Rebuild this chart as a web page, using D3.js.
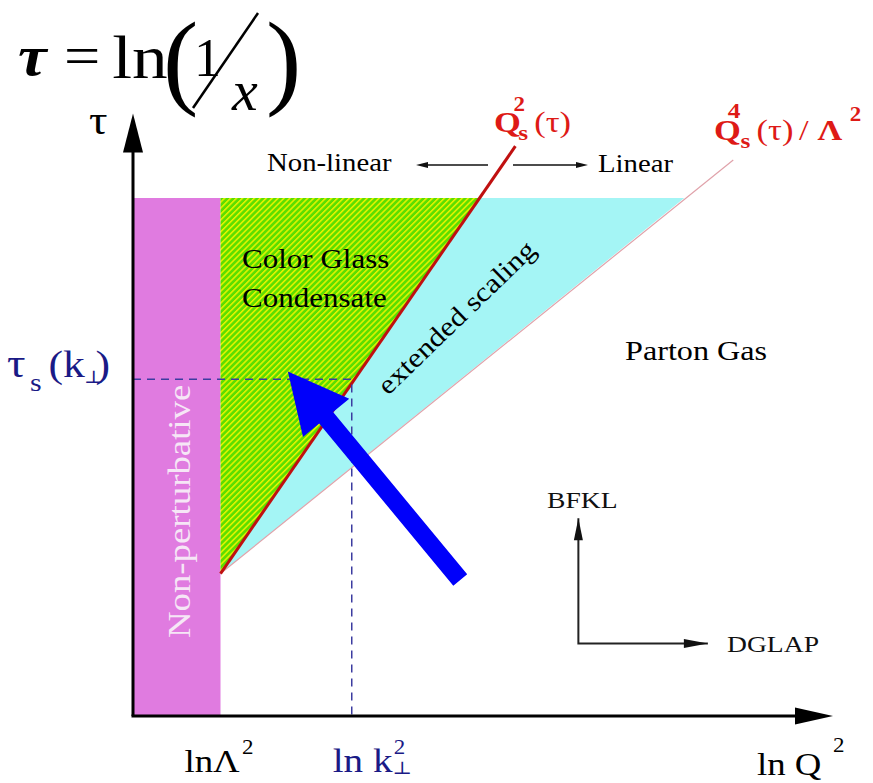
<!DOCTYPE html>
<html>
<head>
<meta charset="utf-8">
<script src="https://cdn.jsdelivr.net/npm/d3@7"></script>
<style>
  body { margin: 0; background: #fff; }
  svg text { font-family: "Liberation Serif", "DejaVu Serif", serif; }
</style>
</head>
<body>
<div class="diagram-container"></div>
<script>
var w = 873;
var h = 783;

// diagram values, in (ln Q^2, tau) units
var lnLambda2 = 1.0;
var lnK2 = 2.5;
var tauS = 3.9;
var axisEnd = [8, 6.98];
var nonPertRegion = [[0, 0], [1.0, 6]];
var cgcRegion = [[1.0, 1.65], [1.0, 6], [3.96, 6]];
var scalingRegion = [[1.0, 1.65], [3.96, 6], [6.30, 6]];
var satLine = [[1.0, 1.65], [4.37, 6.6]];       // Qs^2(tau)
var scalingLine = [[1.0, 1.65], [6.86, 6.44]];  // Qs^4(tau)/Lambda^2
var blueArrow = [[3.74, 1.575], [1.77, 3.99]];
var evoCorner = [5.09, 0.84];
var bfklTip = 2.29;
var dglapTip = 6.57;
var xTickLabels = ["lnΛ", "ln k"];

var x = d3.scaleLinear().domain([0, 8]).range([133, 833]);
var y = d3.scaleLinear().domain([0, 6]).range([716, 198]);

var svg = d3.select(".diagram-container")
    .append("svg")
    .attr("width", w)
    .attr("height", h);

var defs = svg.append("defs");

// hatched green fill for the CGC region
var hatch = defs.append("pattern")
    .attr("id", "hatch")
    .attr("patternUnits", "userSpaceOnUse")
    .attr("width", 4.2)
    .attr("height", 4.2)
    .attr("patternTransform", "rotate(45)");
hatch.append("rect").attr("width", 4.2).attr("height", 4.2).attr("fill", "#5cde00");
hatch.append("rect").attr("width", 1.5).attr("height", 4.2).attr("fill", "#e8f400");

var line = d3.line()
    .x(function(d) { return x(d[0]); })
    .y(function(d) { return y(d[1]); });

// regions
svg.append("rect")
    .attr("x", x(nonPertRegion[0][0]))
    .attr("y", y(nonPertRegion[1][1]))
    .attr("width", x(nonPertRegion[1][0]) - x(nonPertRegion[0][0]))
    .attr("height", y(nonPertRegion[0][1]) - y(nonPertRegion[1][1]))
    .attr("fill", "#e07be0");

svg.append("path")
    .attr("d", line(scalingRegion) + "Z")
    .attr("fill", "#a4f5f5");

svg.append("path")
    .attr("d", line(cgcRegion) + "Z")
    .attr("fill", "url(#hatch)");

svg.append("path")
    .attr("d", line(scalingLine))
    .attr("stroke", "#e0a2aa")
    .attr("stroke-width", 1.2)
    .attr("fill", "none");

svg.append("path")
    .attr("d", line(satLine))
    .attr("stroke", "#c01010")
    .attr("stroke-width", 3)
    .attr("fill", "none");

// dashed guide lines for k_perp
var dashColor = "#3c3ca0";
svg.append("path")
    .attr("d", line([[0, tauS], [lnK2, tauS], [lnK2, 0]]))
    .attr("stroke", dashColor)
    .attr("stroke-width", 1.5)
    .attr("stroke-dasharray", "8,6")
    .attr("fill", "none");

// axes with arrow heads
function arrowHead(tip, dir, len, wid, color) {
    var ux = dir[0], uy = dir[1];
    var bx = tip[0] - ux * len, by = tip[1] - uy * len;
    var px = -uy * wid / 2, py = ux * wid / 2;
    svg.append("path")
        .attr("d", "M" + tip[0] + "," + tip[1] +
            "L" + (bx + px) + "," + (by + py) +
            "L" + (bx - px) + "," + (by - py) + "Z")
        .attr("fill", color);
}

svg.append("line")
    .attr("x1", x(0)).attr("y1", y(0))
    .attr("x2", x(0)).attr("y2", y(axisEnd[1]) + 20)
    .attr("stroke", "#000").attr("stroke-width", 3);
arrowHead([x(0), y(axisEnd[1])], [0, -1], 39, 20, "#000");

svg.append("line")
    .attr("x1", x(0) - 1.5).attr("y1", y(0))
    .attr("x2", x(axisEnd[0]) - 20).attr("y2", y(0))
    .attr("stroke", "#000").attr("stroke-width", 3);
arrowHead([x(axisEnd[0]), y(0)], [1, 0], 38, 17, "#000");

// BFKL / DGLAP evolution arrows
svg.append("path")
    .attr("d", line([[evoCorner[0], bfklTip], evoCorner, [dglapTip, evoCorner[1]]]))
    .attr("stroke", "#222").attr("stroke-width", 2).attr("fill", "none");
arrowHead([x(evoCorner[0]), y(bfklTip)], [0, -1], 22, 9, "#111");
arrowHead([x(dglapTip), y(evoCorner[1])], [1, 0], 24, 9, "#111");

// Non-linear / Linear arrows
svg.append("line").attr("x1", 488).attr("y1", 165).attr("x2", 425).attr("y2", 165)
    .attr("stroke", "#111").attr("stroke-width", 1.5);
arrowHead([416, 165], [-1, 0], 12, 6, "#111");
svg.append("line").attr("x1", 513).attr("y1", 165).attr("x2", 578).attr("y2", 165)
    .attr("stroke", "#111").attr("stroke-width", 1.5);
arrowHead([588, 165], [1, 0], 12, 6, "#111");

// big blue arrow
(function() {
    var t0 = [x(blueArrow[0][0]), y(blueArrow[0][1])];
    var t1 = [x(blueArrow[1][0]), y(blueArrow[1][1])];
    var dx = t1[0] - t0[0], dy = t1[1] - t0[1];
    var L = Math.sqrt(dx * dx + dy * dy);
    var ux = dx / L, uy = dy / L;
    var px = -uy, py = ux;
    var headLen = 60, headW = 60, shaftW = 18;
    var bx = t1[0] - ux * headLen, by = t1[1] - uy * headLen;
    var pts = [
        [t0[0] + px * shaftW / 2, t0[1] + py * shaftW / 2],
        [bx + px * shaftW / 2, by + py * shaftW / 2],
        [bx + px * headW / 2, by + py * headW / 2],
        t1,
        [bx - px * headW / 2, by - py * headW / 2],
        [bx - px * shaftW / 2, by - py * shaftW / 2],
        [t0[0] - px * shaftW / 2, t0[1] - py * shaftW / 2]
    ];
    svg.append("path")
        .attr("d", "M" + pts.map(function(p) { return p.join(","); }).join("L") + "Z")
        .attr("fill", "#0000fa");
})();

// text helper: pieces = [text, dx, dy, size, extra style]
function label(px, py, pieces, color, rot, sc) {
    var s = sc || 1.15;
    var g = svg.append("g")
        .attr("transform", "translate(" + px + "," + py + ")" + (rot ? " rotate(" + rot + ")" : "") + " scale(" + s + ",1)");
    pieces.forEach(function(p) {
        var t = g.append("text")
            .attr("x", p[1]).attr("y", p[2])
            .attr("font-size", p[3])
            .attr("fill", color)
            .text(p[0]);
        if (p[4]) {
            if (p[4].indexOf("b") >= 0) t.attr("font-weight", "bold");
            if (p[4].indexOf("i") >= 0) t.attr("font-style", "italic");
        }
    });
    return g;
}

// formula tau = ln(1/x)
label(18, 75, [["τ", 0, 0, 56, "bi"], ["=", 40, 0, 56, ""], ["ln", 82, 3, 62, ""]], "#000");
label(163, 95, [["(", 0, 0, 106, ""]], "#000", 0, 1.0);
label(194, 76, [["1", 0, 0, 54, ""]], "#000", 0, 1.0);
svg.append("line").attr("x1", 193).attr("y1", 108).attr("x2", 258).attr("y2", 13)
    .attr("stroke", "#000").attr("stroke-width", 2.5);
label(232, 110, [["x", 0, 0, 58, "i"]], "#000", 0, 1.0);
label(266, 95, [[")", 0, 0, 106, ""]], "#000", 0, 1.0);

// axis labels
label(89, 134, [["τ", 0, 0, 40, ""]], "#000");
label(757, 775, [["ln Q", 0, 0, 32, ""]], "#000");
label(833, 752, [["2", 0, 0, 20, ""]], "#000");

var navy = "#1a1a86";
label(x(lnLambda2) - 36, 772, [[xTickLabels[0], 0, 0, 32, ""], ["2", 50, -18, 20, ""]], "#000");
label(x(lnK2) - 19, 772, [[xTickLabels[1], 0, 0, 34, ""], ["2", 53, -18, 20, ""], ["⊥", 52, 2, 18, ""]], navy);

label(7, 377, [["τ", 0, 0, 40, ""], ["s", 20, 14, 26, ""], ["(k", 36, 0, 38, ""], ["⊥", 67, 6, 18, ""], [")", 77, 0, 38, ""]], navy);

// Q_s labels
var red = "#de1a16";
label(494, 132, [["Q", 0, 0, 30, "b"], ["s", 21, 8, 22, "b"], ["2", 17, -21, 20, "b"], ["(τ)", 35, 0, 30, ""]], red);
label(714, 140, [["Q", 0, 0, 30, "b"], ["s", 23, 8, 22, "b"], ["4", 12, -22, 22, "b"], ["(τ)", 37, 0, 30, ""], ["/", 74, 0, 30, ""], ["Λ", 90, 0, 30, "b"], ["2", 118, -19, 20, "b"]], red);

// region labels
label(267, 171, [["Non-linear", 0, 0, 25, ""]], "#000");
label(598, 172, [["Linear", 0, 0, 25, ""]], "#000");
label(242, 268, [["Color Glass", 0, 0, 27, ""]], "#000");
label(242, 307, [["Condensate", 0, 0, 27, ""]], "#000");
label(388, 396, [["extended scaling", 0, 0, 27, ""]], "#000", -44);
label(625, 360, [["Parton Gas", 0, 0, 28, ""]], "#000");
label(190, 638, [["Non-perturbative", 0, 0, 32, ""]], "#f6e6f6", -90);
label(547, 508, [["BFKL", 0, 0, 24, ""]], "#111");
label(727, 652, [["DGLAP", 0, 0, 24, ""]], "#111");
</script>
</body>
</html>
